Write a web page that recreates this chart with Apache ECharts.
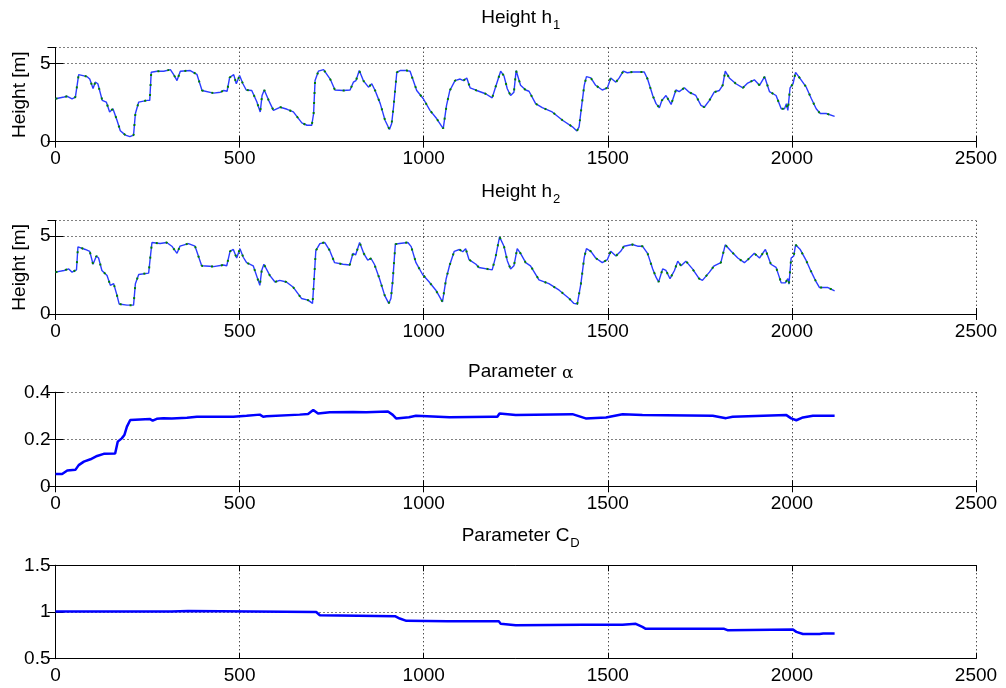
<!DOCTYPE html>
<html><head><meta charset="utf-8">
<script src="https://cdn.jsdelivr.net/npm/echarts@6/dist/echarts.min.js"></script>
<style>html,body{margin:0;padding:0;background:#fff}#c{width:1006px;height:688px}</style>
</head><body><div id="c"></div>
<script>
// ---- data ----
const h1T = [0,23,32,45,54,58,63,86,93,102,108,115,127,138,147,156,167,176,190,202,212,217,226,249,256,260,276,294,312,321,330,339,366,384,398,402,429,448,457,466,473,484,491,500,509,518,533,547,556,561,567,579,592,611,629,646,669,683,696,701,705,714,728,746,759,782,800,809,816,825,836,850,859,868,882,895,907,913,918,927,936,954,963,967,981,999,1017,1035,1053,1058,1062,1071,1085,1099,1108,1117,1126,1144,1168,1186,1195,1209,1218,1227,1236,1245,1251,1263,1277,1286,1304,1322,1349,1377,1404,1416,1422,1427,1436,1442,1454,1467,1485,1499,1508,1522,1531,1542,1553,1567,1585,1599,1608,1622,1631,1640,1647,1658,1672,1685,1694,1708,1721,1739,1753,1762,1776,1789,1803,1812,1819,1830,1848,1867,1880,1898,1912,1926,1939,1957,1971,1980,1985,1989,1995,2003,2010,2021,2039,2053,2066,2077,2093,2116];
const h1V = [2.74,2.85,2.9,2.74,2.85,2.85,4.28,4.15,4.0,3.4,3.8,3.7,2.64,2.53,1.9,2.1,1.37,0.7,0.42,0.32,0.42,1.8,2.53,2.64,2.64,4.43,4.5,4.5,4.6,4.28,3.9,4.5,4.54,4.3,3.27,3.16,3.1,3.16,3.27,3.22,4.1,4.28,3.7,4.22,3.7,3.3,3.27,2.53,1.9,2.95,3.3,2.64,2.0,2.2,2.07,1.9,1.2,1.05,1.05,1.8,3.9,4.5,4.6,4.0,3.3,3.27,3.3,3.8,3.9,4.54,3.9,3.48,3.7,3.27,2.43,1.37,0.78,1.16,2.2,4.43,4.54,4.54,4.5,4.22,3.27,2.74,2.0,1.48,0.84,0.95,2.32,3.27,3.9,4.0,3.9,4.07,3.44,3.27,3.06,2.8,3.48,4.5,4.2,3.38,2.95,3.16,4.54,3.6,3.3,3.22,2.43,2.17,1.9,1.37,0.95,0.68,0.95,1.9,3.6,4.15,4.07,3.6,3.3,3.44,4.07,3.8,4.07,4.5,4.4,4.45,4.45,4.45,4.0,2.95,2.43,2.17,2.64,2.95,2.38,3.3,3.2,3.44,3.16,2.95,2.32,2.2,2.64,3.16,3.27,3.6,4.5,4.07,3.7,3.44,3.74,3.95,3.6,4.15,3.2,2.95,2.1,2.1,2.43,2.0,3.44,3.7,4.43,4.07,3.48,2.74,2.1,1.8,1.8,1.62];

const h2T = [0,23,36,45,57,61,81,93,102,111,117,126,140,149,158,167,173,194,212,217,226,253,257,262,284,302,316,330,338,361,379,397,429,456,465,474,483,492,501,510,519,537,555,560,566,582,596,609,627,645,668,686,698,701,707,718,731,745,758,781,799,808,815,826,837,848,857,866,880,894,905,911,916,923,934,957,966,979,997,1015,1033,1051,1056,1061,1070,1083,1097,1106,1114,1123,1142,1150,1186,1195,1206,1218,1227,1236,1245,1254,1263,1277,1290,1313,1340,1368,1395,1408,1417,1427,1436,1442,1454,1467,1485,1499,1508,1522,1535,1544,1567,1581,1594,1608,1622,1631,1638,1649,1658,1669,1681,1690,1699,1712,1730,1748,1757,1776,1789,1807,1819,1835,1853,1871,1885,1898,1912,1928,1943,1957,1971,1982,1989,1992,1998,2005,2010,2022,2039,2053,2066,2075,2098,2116];
const h2V = [2.69,2.8,2.9,2.69,2.84,4.32,4.15,4.03,3.2,3.73,3.6,2.8,2.48,1.84,1.95,1.2,0.64,0.57,0.57,1.95,2.54,2.63,3.54,4.6,4.53,4.6,4.36,3.9,4.36,4.53,4.36,3.1,3.05,3.15,3.1,4.03,4.15,3.6,4.2,3.65,3.3,3.1,1.84,2.8,3.2,2.48,2.06,2.16,2.06,1.74,1.0,0.89,0.68,1.74,4.07,4.53,4.6,4.07,3.3,3.2,3.15,3.9,3.8,4.6,3.9,3.47,3.57,3.2,2.27,1.2,0.68,1.0,2.16,4.49,4.53,4.6,4.33,3.3,2.54,2.06,1.53,0.78,0.89,2.27,3.1,4.03,4.15,4.0,4.2,3.5,3.2,2.99,2.84,3.64,4.96,4.36,3.43,2.9,3.1,4.2,3.9,3.3,3.1,2.2,1.95,1.53,1.0,0.68,0.64,1.95,3.64,4.2,4.03,3.6,3.3,3.5,4.03,3.73,4.03,4.36,4.47,4.36,4.36,3.9,2.9,2.37,2.06,2.9,2.8,2.27,2.8,3.4,3.1,3.4,2.9,2.27,2.16,2.69,3.1,3.3,4.45,4.03,3.6,3.3,3.6,3.9,3.6,4.15,3.2,3.0,2.0,2.0,2.27,1.92,3.6,3.73,4.45,4.17,3.43,2.69,2.06,1.7,1.7,1.48];

const alphaT = [0,18,32,54,63,77,95,113,131,162,169,180,187,194,203,208,257,264,275,293,316,357,384,483,519,555,564,573,663,686,700,713,745,808,844,903,916,925,960,979,1070,1187,1200,1206,1250,1404,1440,1495,1540,1594,1785,1821,1839,1985,1998,2012,2030,2057,2116];
const alphaV = [0.052,0.052,0.067,0.07,0.09,0.105,0.115,0.129,0.138,0.14,0.19,0.204,0.218,0.254,0.282,0.286,0.286,0.279,0.287,0.29,0.288,0.292,0.296,0.296,0.3,0.305,0.296,0.298,0.305,0.308,0.325,0.31,0.315,0.316,0.315,0.318,0.304,0.289,0.294,0.3,0.294,0.296,0.296,0.31,0.303,0.307,0.289,0.293,0.307,0.303,0.3,0.29,0.296,0.303,0.289,0.281,0.293,0.3,0.3];

const cdT = [0,315,316,360,361,708,718,822,922,935,953,1065,1150,1204,1209,1250,1431,1540,1544,1576,1594,1603,1816,1825,2003,2012,2030,2075,2085,2116];
const cdV = [1.005,1.005,1.012,1.012,1.0,1.0,0.965,0.96,0.955,0.93,0.905,0.9,0.9,0.9,0.875,0.858,0.864,0.864,0.875,0.873,0.84,0.82,0.82,0.805,0.812,0.787,0.765,0.765,0.77,0.77];

const xTickInterval = 500;
const titles = [
  '{a|Height h}{s|1}',
  '{a|Height h}{s|2}',
  '{a|Parameter }{g|α}',
  '{a|Parameter C}{s|D}'
];
const yRanges = [[0,6,5],[0,6,5],[0,0.4,0.2],[0.5,1.5,0.5]];

// ---- layout ----
const FONT = 'Liberation Sans';
const FS = 19;
const grids = [
  {left:55.5, right:30, top:47.7, height:94},
  {left:55.5, right:30, top:220.7, height:93.3},
  {left:55.5, right:30, top:392.3, height:94},
  {left:55.5, right:30, top:565.3, height:93.4}
];
const titleTops = [-1, 173, 357, 517];

const zip = (t, v) => t.map((x, i) => [x, v[i]]);

const xAxes = [], yAxes = [], series = [], title = [];
grids.forEach((g, i) => {
  xAxes.push({
    type:'value', gridIndex:i, min:0, max:2500, interval:xTickInterval, position:'bottom',
    axisLine:{show:true, lineStyle:{color:'#000', width:1}},
    axisTick:{show:true, inside:true, length:6, lineStyle:{color:'#000'}},
    axisLabel:{show:true, color:'#000', fontSize:FS, fontFamily:FONT, margin:8, formatter: v => String(v)},
    splitLine:{show:true, lineStyle:{color:'#000', type:[1,3], width:1}}
  });
  xAxes.push({
    type:'value', gridIndex:i, min:0, max:2500, interval:xTickInterval, position:'top',
    axisLine:{show:true, lineStyle:{color:'#000', width:1}},
    axisTick:{show:true, inside:true, length:6, lineStyle:{color:'#000'}},
    axisLabel:{show:false}, splitLine:{show:false}
  });
  const [mn, mx, iv] = yRanges[i];
  yAxes.push({
    type:'value', gridIndex:i, min:mn, max:mx, interval:iv, position:'left',
    name: i < 2 ? 'Height [m]' : '', nameLocation:'middle', nameGap:22, nameRotate:90,
    nameTextStyle:{color:'#000', fontSize:FS, fontFamily:FONT},
    axisLine:{show:true, lineStyle:{color:'#000', width:1}},
    axisTick:{show:true, inside:true, length:8, lineStyle:{color:'#000'}},
    axisLabel:{show:true, color:'#000', fontSize:FS, fontFamily:FONT, margin:5, showMaxLabel: i >= 2,
               formatter: v => String(Math.round(v * 10) / 10)},
    splitLine:{show:true, lineStyle:{color:'#000', type:[1,3], width:1}}
  });
  yAxes.push({
    type:'value', gridIndex:i, min:mn, max:mx, interval:iv, position:'right',
    axisLine:{show:true, lineStyle:{color:'#000', width:1}},
    axisTick:{show:true, inside:true, length:8, lineStyle:{color:'#000'}},
    axisLabel:{show:false}, splitLine:{show:false}
  });
  title.push({
    text: titles[i], left: 515.7, textAlign:'center', top: titleTops[i],
    textStyle:{
      rich:{
        a:{fontSize:FS, fontFamily:FONT, color:'#000', fontWeight:'normal'},
        s:{fontSize:13, fontFamily:FONT, color:'#000', fontWeight:'normal', padding:[15,0,0,1]},
        g:{fontSize:17, fontFamily:'DejaVu Serif', fontWeight:'normal', color:'#000', padding:[3,0,0,0]}
      }
    }
  });
});

series.push({type:'line', xAxisIndex:0, yAxisIndex:0, data:zip(h1T,h1V), showSymbol:false, lineStyle:{color:'#2a3cff', width:1.4}, animation:false, z:2});
series.push({type:'line', xAxisIndex:0, yAxisIndex:0, data:zip(h1T,h1V), showSymbol:false, lineStyle:{color:'#008000', width:2, type:[2,8]}, animation:false, z:3});
series.push({type:'line', xAxisIndex:2, yAxisIndex:2, data:zip(h2T,h2V), showSymbol:false, lineStyle:{color:'#2a3cff', width:1.4}, animation:false, z:2});
series.push({type:'line', xAxisIndex:2, yAxisIndex:2, data:zip(h2T,h2V), showSymbol:false, lineStyle:{color:'#008000', width:2, type:[2,8]}, animation:false, z:3});
series.push({type:'line', xAxisIndex:4, yAxisIndex:4, data:zip(alphaT,alphaV), showSymbol:false, lineStyle:{color:'#0000ff', width:2.5}, animation:false});
series.push({type:'line', xAxisIndex:6, yAxisIndex:6, data:zip(cdT,cdV), showSymbol:false, lineStyle:{color:'#0000ff', width:2.5}, animation:false});

const chart = echarts.init(document.getElementById('c'), null, {renderer:'canvas'});
chart.setOption({
  backgroundColor:'#fff',
  animation:false,
  title: title,
  grid: grids,
  xAxis: xAxes,
  yAxis: yAxes,
  series: series
});
</script>
</body></html>
